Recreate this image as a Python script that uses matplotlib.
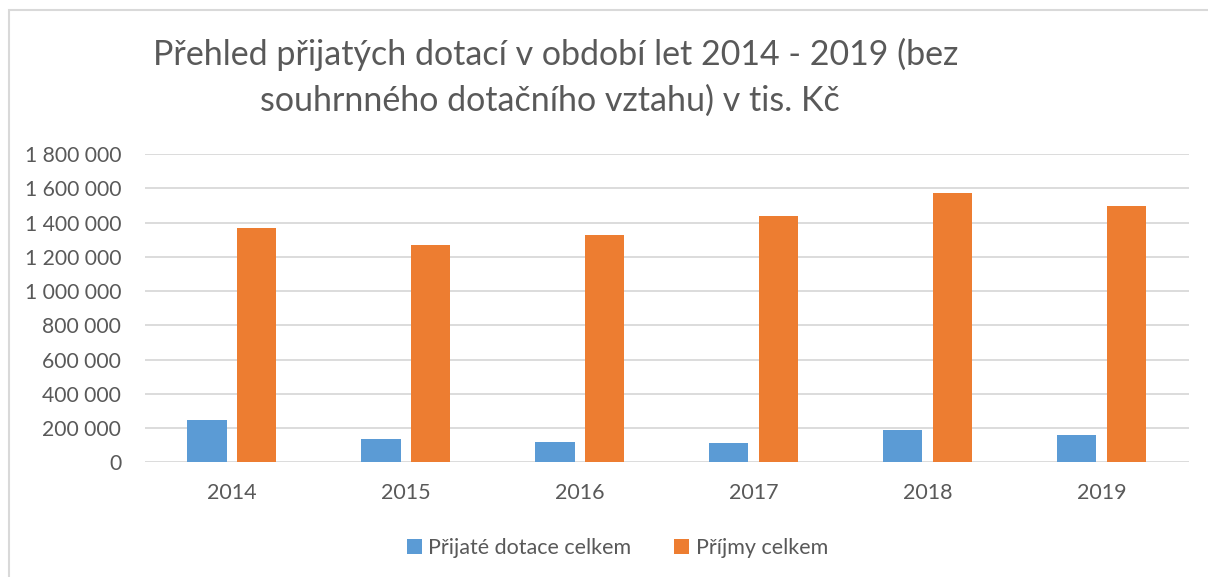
import matplotlib.pyplot as plt
import matplotlib.ticker as mticker
from matplotlib.patches import Rectangle
import numpy as np

years = ["2014", "2015", "2016", "2017", "2018", "2019"]
prijate_dotace = [247000, 134000, 119000, 113000, 189000, 161000]
prijmy_celkem = [1366000, 1267000, 1325000, 1438000, 1574000, 1498000]
series_names = ["Přijaté dotace celkem", "Příjmy celkem"]

BLUE = "#5B9BD5"
ORANGE = "#ED7D31"
TEXT = "#595959"
GRID = "#D9D9D9"

plt.rcParams['font.family'] = ['Lato', 'DejaVu Sans']

fig = plt.figure(figsize=(12.08, 5.77), dpi=100)
ax = fig.add_axes([0.120, 0.1988, 0.864, 0.5343])

x = np.arange(len(years))
w = 0.225
off = 0.143
ax.bar(x - off, prijate_dotace, w, color=BLUE, label=series_names[0], zorder=3)
ax.bar(x + off, prijmy_celkem, w, color=ORANGE, label=series_names[1], zorder=3)

ax.set_xlim(-0.5, len(years) - 0.5)
ax.set_ylim(0, 1800000)
ax.set_yticks(range(0, 1800001, 200000))
ax.yaxis.set_major_formatter(mticker.FuncFormatter(lambda v, p: f"{v:,.0f}".replace(",", " ")))
ax.set_xticks(x)
ax.set_xticklabels(years)

ax.grid(axis="y", color=GRID, linewidth=1.3, zorder=0)
for s in ["top", "right", "left", "bottom"]:
    ax.spines[s].set_visible(False)
ax.tick_params(axis="y", length=0, pad=17, labelsize=15.2, labelcolor=TEXT)
ax.tick_params(axis="x", length=0, pad=15, labelsize=15.5, labelcolor=TEXT)

fig.text(0.46, 0.905, "Přehled přijatých dotací v období let 2014 - 2019 (bez",
         ha="center", va="center", fontsize=24.5, color=TEXT)
fig.text(0.455, 0.826, "souhrnného dotačního vztahu) v tis. Kč",
         ha="center", va="center", fontsize=24.5, color=TEXT)

leg = fig.legend(loc="center", bbox_to_anchor=(0.511, 0.051), ncol=2, frameon=False,
                 fontsize=15.5, handlelength=0.7, handleheight=0.7, handletextpad=0.3,
                 columnspacing=2.0)
for t in leg.get_texts():
    t.set_color(TEXT)

# chart frame (cut off on the right and bottom like the screenshot)
fig.patches.append(Rectangle((9 / 1208, -0.05), 1.2, 1 - 10 / 577 + 0.05,
                             transform=fig.transFigure, fill=False,
                             edgecolor=GRID, linewidth=1.5))

fig.savefig("out.png", dpi=100)
